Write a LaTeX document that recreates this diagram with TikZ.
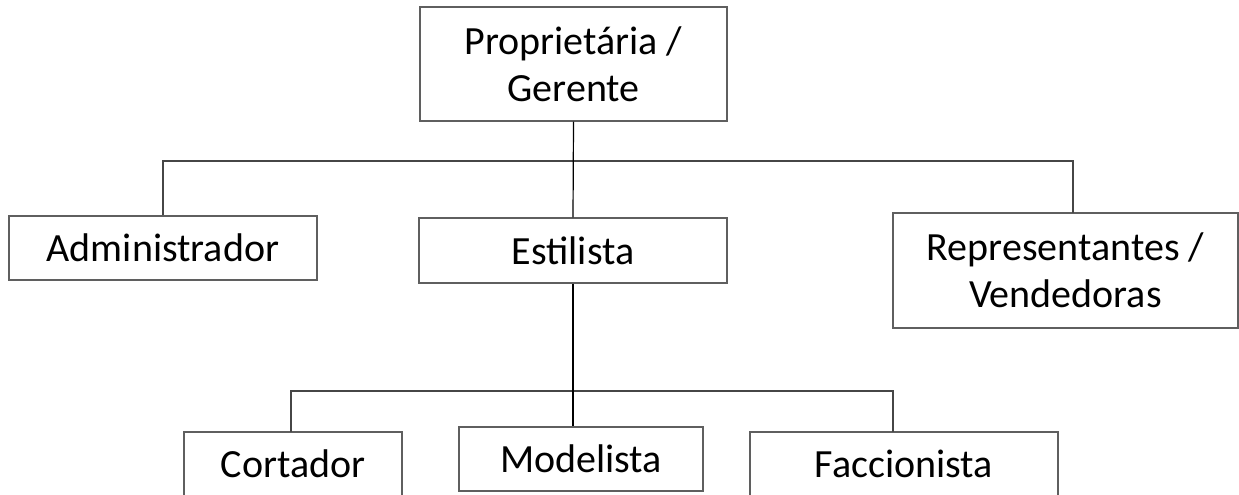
\documentclass[tikz,border=0pt]{standalone}
\usepackage{fontspec}
\setmainfont{Carlito}
\definecolor{boxline}{RGB}{95,95,95}
\definecolor{connline}{RGB}{70,70,70}
\begin{document}
\begin{tikzpicture}[x=1pt,y=-1pt,
  orgbox/.style={draw=boxline,line width=1.3pt,fill=white,inner sep=0pt,align=center,
    font=\fontsize{40}{47}\selectfont},
  conn/.style={draw=connline,line width=1.2pt},
  stem/.style={draw=black,line width=1.2pt}]
\useasboundingbox[fill=white] (0,0) rectangle (1239,495);
\begin{scope}
\clip (0,0) rectangle (1239,495);
% connectors
\coordinate (busL) at (163,161);
\coordinate (busR) at (1073,161);
\coordinate (repTop) at (1073,213);
\coordinate (busBL) at (291,391);
\coordinate (busBR) at (893,391);
\coordinate (corTop) at (291,432);
\coordinate (facTop) at (893,432);
\node[orgbox,minimum width=307pt,minimum height=114pt] (top) at (573.5,64) {Proprietária /\\Gerente};
\node[orgbox,minimum width=308pt,minimum height=64pt] (adm) at (163,248) {Administrador};
\node[orgbox,minimum width=308pt,minimum height=65pt] (est) at (573,250.5) {Estilista};
\node[orgbox,minimum width=345pt,minimum height=115pt] (rep) at (1065.5,270.5) {Representantes /\\Vendedoras};
\node[orgbox,minimum width=218pt,minimum height=64pt] (cor) at (293,464) {Cortador};
\node[orgbox,minimum width=244pt,minimum height=64pt] (mod) at (581,459) {Modelista};
\node[orgbox,minimum width=308pt,minimum height=64pt] (fac) at (904,464) {Faccionista};
\draw[conn] (adm.north) -- (busL) -- (busR) -- (repTop);
\draw[stem] (top.south) -- (est.north);
\draw[conn] (corTop) -- (busBL) -- (busBR) -- (facTop);
\draw[stem] (est.south) -- (mod.north -| est.south);
\end{scope}
\end{tikzpicture}
\end{document}
